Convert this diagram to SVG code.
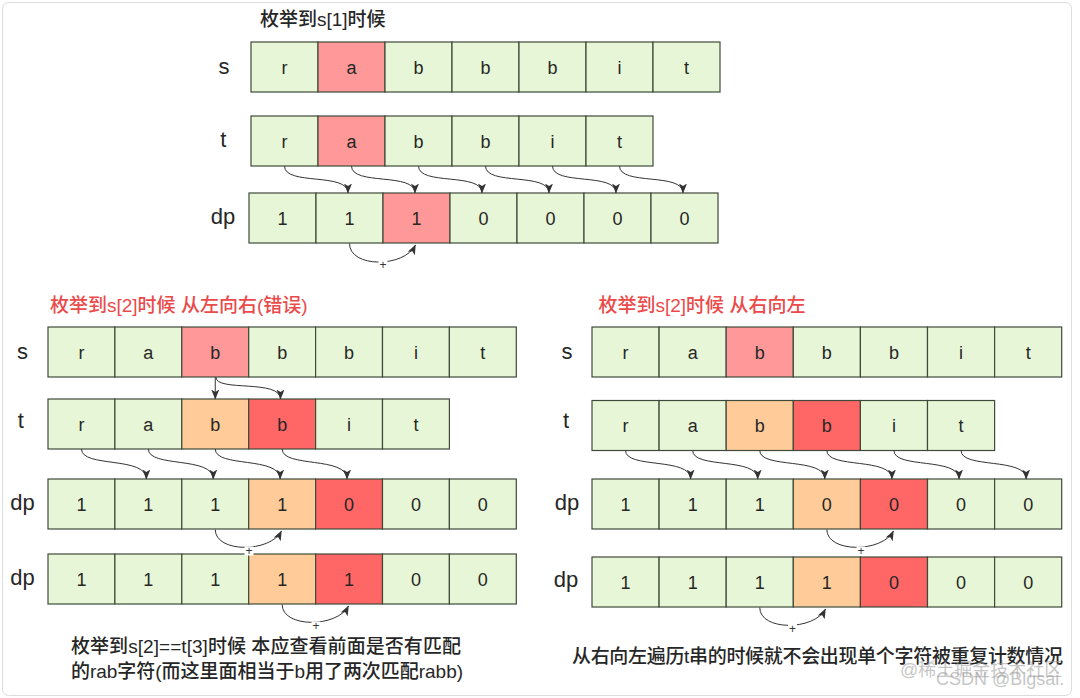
<svg xmlns="http://www.w3.org/2000/svg" width="1080" height="698" viewBox="0 0 1080 698">
<style>
.c{stroke:#3f4a3a;stroke-width:1.2}
.g{fill:#e6f6d6}.p{fill:#ff9999}.o{fill:#ffcc99}.r{fill:#ff6666}
text{font-family:"Liberation Sans","Noto Sans CJK SC",sans-serif}
.v{font-size:18px;text-anchor:middle;fill:#262626}
.lbl{font-size:22px;text-anchor:middle;fill:#262626}
.ttl{font-size:19px;fill:#262626;font-weight:500}
.red{fill:#ea4a4a}
.e{fill:none;stroke:#333;stroke-width:1;marker-end:url(#ah)}
.pl{font-size:12px;text-anchor:middle;fill:#333}
.wm{font-size:18px;fill:#999;opacity:0.55}
</style>
<defs>
<marker id="ah" viewBox="0 0 10 8" refX="9.5" refY="4" markerWidth="10" markerHeight="8" markerUnits="userSpaceOnUse" orient="auto"><path d="M0,0 L10,4 L0,8 L2.5,4 z" fill="#333"/></marker>
</defs>
<rect x="2.5" y="2.5" width="1069" height="693" rx="6" fill="#fff" stroke="#dcdcdc"/>

<g id="titles">
<text class="ttl" x="260" y="26">枚举到s[1]时候</text>
<text class="ttl red" x="50" y="311.5">枚举到s[2]时候 从左向右(错误)</text>
<text class="ttl red" x="598.5" y="311.5">枚举到s[2]时候 从右向左</text>
<text class="ttl" x="71" y="653.3" textLength="390" lengthAdjust="spacing">枚举到s[2]==t[3]时候 本应查看前面是否有匹配</text>
<text class="ttl" x="71" y="678.3" textLength="392" lengthAdjust="spacing">的rab字符(而这里面相当于b用了两次匹配rabb)</text>
<text class="ttl" x="572" y="663.3" textLength="491" lengthAdjust="spacing">从右向左遍历t串的时候就不会出现单个字符被重复计数情况</text>
</g>

<g id="row-labels">
<text class="lbl" x="224" y="74">s</text>
<text class="lbl" x="223.4" y="147">t</text>
<text class="lbl" x="223" y="223.7">dp</text>
<text class="lbl" x="22.4" y="359">s</text>
<text class="lbl" x="20.7" y="428">t</text>
<text class="lbl" x="22.4" y="510">dp</text>
<text class="lbl" x="22.4" y="584.5">dp</text>
<text class="lbl" x="567" y="359">s</text>
<text class="lbl" x="566" y="428">t</text>
<text class="lbl" x="567" y="510">dp</text>
<text class="lbl" x="566" y="587">dp</text>
</g>

<!-- top section -->
<g id="top-s0"><rect class="c g" x="251" y="42" width="67" height="50"/><text class="v" x="284.5" y="73.5">r</text></g>
<g id="top-s1"><rect class="c p" x="318" y="42" width="67" height="50"/><text class="v" x="351.5" y="73.5">a</text></g>
<g id="top-s2"><rect class="c g" x="385" y="42" width="67" height="50"/><text class="v" x="418.5" y="73.5">b</text></g>
<g id="top-s3"><rect class="c g" x="452" y="42" width="67" height="50"/><text class="v" x="485.5" y="73.5">b</text></g>
<g id="top-s4"><rect class="c g" x="519" y="42" width="67" height="50"/><text class="v" x="552.5" y="73.5">b</text></g>
<g id="top-s5"><rect class="c g" x="586" y="42" width="67" height="50"/><text class="v" x="619.5" y="73.5">i</text></g>
<g id="top-s6"><rect class="c g" x="653" y="42" width="67" height="50"/><text class="v" x="686.5" y="73.5">t</text></g>

<g id="top-t0"><rect class="c g" x="251" y="116" width="67" height="50"/><text class="v" x="284.5" y="147.5">r</text></g>
<g id="top-t1"><rect class="c p" x="318" y="116" width="67" height="50"/><text class="v" x="351.5" y="147.5">a</text></g>
<g id="top-t2"><rect class="c g" x="385" y="116" width="67" height="50"/><text class="v" x="418.5" y="147.5">b</text></g>
<g id="top-t3"><rect class="c g" x="452" y="116" width="67" height="50"/><text class="v" x="485.5" y="147.5">b</text></g>
<g id="top-t4"><rect class="c g" x="519" y="116" width="67" height="50"/><text class="v" x="552.5" y="147.5">i</text></g>
<g id="top-t5"><rect class="c g" x="586" y="116" width="67" height="50"/><text class="v" x="619.5" y="147.5">t</text></g>

<g id="top-dp0"><rect class="c g" x="249" y="193" width="67" height="50"/><text class="v" x="282.5" y="224.5">1</text></g>
<g id="top-dp1"><rect class="c g" x="316" y="193" width="67" height="50"/><text class="v" x="349.5" y="224.5">1</text></g>
<g id="top-dp2"><rect class="c p" x="383" y="193" width="67" height="50"/><text class="v" x="416.5" y="224.5">1</text></g>
<g id="top-dp3"><rect class="c g" x="450" y="193" width="67" height="50"/><text class="v" x="483.5" y="224.5">0</text></g>
<g id="top-dp4"><rect class="c g" x="517" y="193" width="67" height="50"/><text class="v" x="550.5" y="224.5">0</text></g>
<g id="top-dp5"><rect class="c g" x="584" y="193" width="67" height="50"/><text class="v" x="617.5" y="224.5">0</text></g>
<g id="top-dp6"><rect class="c g" x="651" y="193" width="67" height="50"/><text class="v" x="684.5" y="224.5">0</text></g>

<!-- left section -->
<g id="l-s0"><rect class="c g" x="48" y="327" width="66.9" height="50"/><text class="v" x="81.45" y="358.5">r</text></g>
<g id="l-s1"><rect class="c g" x="114.9" y="327" width="66.9" height="50"/><text class="v" x="148.35" y="358.5">a</text></g>
<g id="l-s2"><rect class="c p" x="181.8" y="327" width="66.9" height="50"/><text class="v" x="215.25" y="358.5">b</text></g>
<g id="l-s3"><rect class="c g" x="248.7" y="327" width="66.9" height="50"/><text class="v" x="282.15" y="358.5">b</text></g>
<g id="l-s4"><rect class="c g" x="315.6" y="327" width="66.9" height="50"/><text class="v" x="349.05" y="358.5">b</text></g>
<g id="l-s5"><rect class="c g" x="382.5" y="327" width="66.9" height="50"/><text class="v" x="415.95" y="358.5">i</text></g>
<g id="l-s6"><rect class="c g" x="449.4" y="327" width="66.9" height="50"/><text class="v" x="482.85" y="358.5">t</text></g>

<g id="l-t0"><rect class="c g" x="48" y="399" width="66.9" height="50"/><text class="v" x="81.45" y="430.5">r</text></g>
<g id="l-t1"><rect class="c g" x="114.9" y="399" width="66.9" height="50"/><text class="v" x="148.35" y="430.5">a</text></g>
<g id="l-t2"><rect class="c o" x="181.8" y="399" width="66.9" height="50"/><text class="v" x="215.25" y="430.5">b</text></g>
<g id="l-t3"><rect class="c r" x="248.7" y="399" width="66.9" height="50"/><text class="v" x="282.15" y="430.5">b</text></g>
<g id="l-t4"><rect class="c g" x="315.6" y="399" width="66.9" height="50"/><text class="v" x="349.05" y="430.5">i</text></g>
<g id="l-t5"><rect class="c g" x="382.5" y="399" width="66.9" height="50"/><text class="v" x="415.95" y="430.5">t</text></g>

<g id="l-dpa0"><rect class="c g" x="48" y="479" width="66.9" height="50"/><text class="v" x="81.45" y="510.5">1</text></g>
<g id="l-dpa1"><rect class="c g" x="114.9" y="479" width="66.9" height="50"/><text class="v" x="148.35" y="510.5">1</text></g>
<g id="l-dpa2"><rect class="c g" x="181.8" y="479" width="66.9" height="50"/><text class="v" x="215.25" y="510.5">1</text></g>
<g id="l-dpa3"><rect class="c o" x="248.7" y="479" width="66.9" height="50"/><text class="v" x="282.15" y="510.5">1</text></g>
<g id="l-dpa4"><rect class="c r" x="315.6" y="479" width="66.9" height="50"/><text class="v" x="349.05" y="510.5">0</text></g>
<g id="l-dpa5"><rect class="c g" x="382.5" y="479" width="66.9" height="50"/><text class="v" x="415.95" y="510.5">0</text></g>
<g id="l-dpa6"><rect class="c g" x="449.4" y="479" width="66.9" height="50"/><text class="v" x="482.85" y="510.5">0</text></g>

<g id="l-dpb0"><rect class="c g" x="48" y="554" width="66.9" height="50"/><text class="v" x="81.45" y="585.5">1</text></g>
<g id="l-dpb1"><rect class="c g" x="114.9" y="554" width="66.9" height="50"/><text class="v" x="148.35" y="585.5">1</text></g>
<g id="l-dpb2"><rect class="c g" x="181.8" y="554" width="66.9" height="50"/><text class="v" x="215.25" y="585.5">1</text></g>
<g id="l-dpb3"><rect class="c o" x="248.7" y="554" width="66.9" height="50"/><text class="v" x="282.15" y="585.5">1</text></g>
<g id="l-dpb4"><rect class="c r" x="315.6" y="554" width="66.9" height="50"/><text class="v" x="349.05" y="585.5">1</text></g>
<g id="l-dpb5"><rect class="c g" x="382.5" y="554" width="66.9" height="50"/><text class="v" x="415.95" y="585.5">0</text></g>
<g id="l-dpb6"><rect class="c g" x="449.4" y="554" width="66.9" height="50"/><text class="v" x="482.85" y="585.5">0</text></g>

<!-- right section -->
<g id="r-s0"><rect class="c g" x="592" y="327" width="67.1" height="50"/><text class="v" x="625.55" y="358.5">r</text></g>
<g id="r-s1"><rect class="c g" x="659.1" y="327" width="67.1" height="50"/><text class="v" x="692.65" y="358.5">a</text></g>
<g id="r-s2"><rect class="c p" x="726.2" y="327" width="67.1" height="50"/><text class="v" x="759.75" y="358.5">b</text></g>
<g id="r-s3"><rect class="c g" x="793.3" y="327" width="67.1" height="50"/><text class="v" x="826.85" y="358.5">b</text></g>
<g id="r-s4"><rect class="c g" x="860.4" y="327" width="67.1" height="50"/><text class="v" x="893.95" y="358.5">b</text></g>
<g id="r-s5"><rect class="c g" x="927.5" y="327" width="67.1" height="50"/><text class="v" x="961.05" y="358.5">i</text></g>
<g id="r-s6"><rect class="c g" x="994.6" y="327" width="67.1" height="50"/><text class="v" x="1028.15" y="358.5">t</text></g>

<g id="r-t0"><rect class="c g" x="592" y="400.5" width="67.1" height="50"/><text class="v" x="625.55" y="432">r</text></g>
<g id="r-t1"><rect class="c g" x="659.1" y="400.5" width="67.1" height="50"/><text class="v" x="692.65" y="432">a</text></g>
<g id="r-t2"><rect class="c o" x="726.2" y="400.5" width="67.1" height="50"/><text class="v" x="759.75" y="432">b</text></g>
<g id="r-t3"><rect class="c r" x="793.3" y="400.5" width="67.1" height="50"/><text class="v" x="826.85" y="432">b</text></g>
<g id="r-t4"><rect class="c g" x="860.4" y="400.5" width="67.1" height="50"/><text class="v" x="893.95" y="432">i</text></g>
<g id="r-t5"><rect class="c g" x="927.5" y="400.5" width="67.1" height="50"/><text class="v" x="961.05" y="432">t</text></g>

<g id="r-dpa0"><rect class="c g" x="592" y="479" width="67.1" height="50"/><text class="v" x="625.55" y="510.5">1</text></g>
<g id="r-dpa1"><rect class="c g" x="659.1" y="479" width="67.1" height="50"/><text class="v" x="692.65" y="510.5">1</text></g>
<g id="r-dpa2"><rect class="c g" x="726.2" y="479" width="67.1" height="50"/><text class="v" x="759.75" y="510.5">1</text></g>
<g id="r-dpa3"><rect class="c o" x="793.3" y="479" width="67.1" height="50"/><text class="v" x="826.85" y="510.5">0</text></g>
<g id="r-dpa4"><rect class="c r" x="860.4" y="479" width="67.1" height="50"/><text class="v" x="893.95" y="510.5">0</text></g>
<g id="r-dpa5"><rect class="c g" x="927.5" y="479" width="67.1" height="50"/><text class="v" x="961.05" y="510.5">0</text></g>
<g id="r-dpa6"><rect class="c g" x="994.6" y="479" width="67.1" height="50"/><text class="v" x="1028.15" y="510.5">0</text></g>

<g id="r-dpb0"><rect class="c g" x="592" y="557" width="67.1" height="50"/><text class="v" x="625.55" y="588.5">1</text></g>
<g id="r-dpb1"><rect class="c g" x="659.1" y="557" width="67.1" height="50"/><text class="v" x="692.65" y="588.5">1</text></g>
<g id="r-dpb2"><rect class="c g" x="726.2" y="557" width="67.1" height="50"/><text class="v" x="759.75" y="588.5">1</text></g>
<g id="r-dpb3"><rect class="c o" x="793.3" y="557" width="67.1" height="50"/><text class="v" x="826.85" y="588.5">1</text></g>
<g id="r-dpb4"><rect class="c r" x="860.4" y="557" width="67.1" height="50"/><text class="v" x="893.95" y="588.5">0</text></g>
<g id="r-dpb5"><rect class="c g" x="927.5" y="557" width="67.1" height="50"/><text class="v" x="961.05" y="588.5">0</text></g>
<g id="r-dpb6"><rect class="c g" x="994.6" y="557" width="67.1" height="50"/><text class="v" x="1028.15" y="588.5">0</text></g>

<g id="connectors">
<path class="e" d="M284.5 166 C284.5 186,348 172,348 193"/>
<path class="e" d="M351.5 166 C351.5 186,415 172,415 193"/>
<path class="e" d="M418.5 166 C418.5 186,482 172,482 193"/>
<path class="e" d="M485.5 166 C485.5 186,549 172,549 193"/>
<path class="e" d="M552.5 166 C552.5 186,616 172,616 193"/>
<path class="e" d="M619.5 166 C619.5 186,683 172,683 193"/>
<path class="e" d="M349.5 243.5 C349.5 268,404 268,415.5 245"/>
<rect x="378.5" y="260.5" width="9" height="9" fill="#fff"/>
<text class="pl" x="383" y="269">+</text>

<path class="e" d="M215.25 377.3 L215.25 399"/>
<path class="e" d="M216 377.3 C216 392,280.5 379,280.5 399"/>
<path class="e" d="M81.45 449 C81.45 468,146.35 456,146.35 479"/>
<path class="e" d="M148.35 449 C148.35 468,213.25 456,213.25 479"/>
<path class="e" d="M215.25 449 C215.25 468,280.15 456,280.15 479"/>
<path class="e" d="M282.15 449 C282.15 468,347.05 456,347.05 479"/>
<path class="e" d="M215.25 529.5 C215.25 553,270 553,281.5 531"/>
<rect x="244.5" y="546.5" width="9" height="9" fill="#fff"/>
<text class="pl" x="249" y="555">+</text>
<path class="e" d="M282.15 604.5 C282.15 628,337 628,348.5 606"/>
<rect x="311.5" y="621.5" width="9" height="9" fill="#fff"/>
<text class="pl" x="316" y="630">+</text>

<path class="e" d="M625.55 450.5 C625.55 469,690.65 457,690.65 479"/>
<path class="e" d="M692.65 450.5 C692.65 469,757.75 457,757.75 479"/>
<path class="e" d="M759.75 450.5 C759.75 469,824.85 457,824.85 479"/>
<path class="e" d="M826.85 450.5 C826.85 469,891.95 457,891.95 479"/>
<path class="e" d="M893.95 450.5 C893.95 469,959.05 457,959.05 479"/>
<path class="e" d="M961.05 450.5 C961.05 469,1026.15 457,1026.15 479"/>
<path class="e" d="M826.85 529.5 C826.85 553,882 553,893.5 531"/>
<rect x="856.5" y="546.5" width="9" height="9" fill="#fff"/>
<text class="pl" x="861" y="555">+</text>
<path class="e" d="M759.75 607.5 C759.75 631,814 631,825.5 609"/>
<rect x="788" y="624" width="9" height="9" fill="#fff"/>
<text class="pl" x="792.4" y="632.5">+</text>
</g>

<g id="watermark">
<text class="wm" x="900" y="676">@稀土掘金技术社区</text>
<text class="wm" x="936" y="685">CSDN @Bigsai.</text>
</g>
</svg>
